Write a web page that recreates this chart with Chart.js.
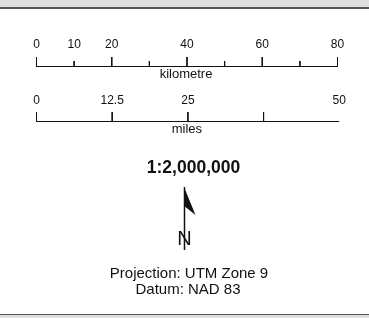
<!DOCTYPE html>
<html><head><meta charset="utf-8">
<script src="https://cdn.jsdelivr.net/npm/chart.js@4/dist/chart.umd.min.js"></script>
<style>
html,body{margin:0;padding:0;background:#fff;}
#wrap{position:relative;width:369px;height:318px;overflow:hidden;background:#fff;}
#topband{position:absolute;left:0;top:0;width:369px;height:7px;background:#dedede;border-bottom:2px solid #555;}
#botband{position:absolute;left:0;top:314px;width:369px;height:4px;background:#dedede;border-top:1px solid #555;box-sizing:border-box;}
canvas{position:absolute;left:0;top:0;}
</style>
</head><body>
<div id="wrap"><canvas id="c" width="369" height="318"></canvas><div id="topband"></div><div id="botband"></div></div>
<script>
// ---- data ----
const kmTicks = [0, 10, 20, 30, 40, 50, 60, 70, 80];
const kmMajor = [0, 20, 40, 60, 80];
const kmLabels = ['0', '10', '20', '', '40', '', '60', '', '80'];
const miTicks = [0, 12.5, 25, 37.5, 50];
const miLabels = ['0', '12.5', '25', '', '50'];
const kmUnit = 'kilometre';
const miUnit = 'miles';
const scaleText = '1:2,000,000';
const northLabel = 'N';
const projLines = ['Projection: UTM Zone 9', 'Datum: NAD 83'];
const KM_PER_MILE = 1.609344;

// ---- layout (pixels) ----
const KM_BASE = 66.5, KM_MAJ_TOP = 57, KM_MIN_TOP = 61, KM_LABEL_Y = 45, KM_UNIT_Y = 74;
const MI_BASE = 121.5, MI_TOP = 112, MI_LABEL_Y = 101, MI_UNIT_Y = 129;
const FONT = '"Liberation Sans", Arial, Helvetica, sans-serif';
const INK = '#111';

function segs(ticks, topFn, base, conv) {
  const out = [];
  ticks.forEach(t => {
    const x = conv(t);
    out.push({x: x, y: topFn(t)}, {x: x, y: base}, {x: x, y: null});
  });
  return out;
}
const ident = v => v;
const mi2km = v => v * KM_PER_MILE;

const datasets = [
  {data: [{x: 0, y: KM_BASE}, {x: kmTicks[kmTicks.length - 1], y: KM_BASE}]},
  {data: segs(kmTicks, t => kmMajor.includes(t) ? KM_MAJ_TOP : KM_MIN_TOP, KM_BASE, ident)},
  {data: [{x: 0, y: MI_BASE}, {x: mi2km(miTicks[miTicks.length - 1]), y: MI_BASE}]},
  {data: segs(miTicks, () => MI_TOP, MI_BASE, mi2km)}
].map(d => Object.assign(d, {showLine: true, borderColor: INK, borderWidth: 1, pointRadius: 0, spanGaps: false, clip: false, tension: 0}));

const textPlugin = {
  id: 'texts',
  afterDatasetsDraw(chart) {
    const ctx = chart.ctx, xs = chart.scales.x;
    ctx.save();
    ctx.fillStyle = INK;
    ctx.textAlign = 'center';
    ctx.textBaseline = 'middle';
    ctx.font = '12px ' + FONT;
    kmTicks.forEach((t, i) => { if (kmLabels[i]) ctx.fillText(kmLabels[i], xs.getPixelForValue(t), KM_LABEL_Y); });
    miTicks.forEach((t, i) => { if (miLabels[i]) ctx.fillText(miLabels[i], xs.getPixelForValue(mi2km(t)), MI_LABEL_Y); });
    const kmMid = (xs.getPixelForValue(0) + xs.getPixelForValue(80)) / 2;
    const miMid = (xs.getPixelForValue(0) + xs.getPixelForValue(mi2km(50))) / 2;
    ctx.font = '13px ' + FONT;
    ctx.fillText(kmUnit, kmMid - 1, KM_UNIT_Y);
    ctx.fillText(miUnit, miMid - 1, MI_UNIT_Y);
    const cx = 184.5;
    ctx.font = 'bold 17.5px ' + FONT;
    ctx.fillText(scaleText, 193.5, 168);
    // north arrow
    ctx.strokeStyle = INK; ctx.lineWidth = 1.5;
    ctx.beginPath(); ctx.moveTo(cx, 187); ctx.lineTo(cx, 250); ctx.stroke();
    ctx.beginPath();
    ctx.moveTo(cx - 0.5, 187); ctx.lineTo(cx + 11, 215); ctx.lineTo(cx + 1, 207); ctx.lineTo(cx - 0.5, 207); ctx.closePath();
    ctx.fill();
    ctx.font = '20px ' + FONT;
    ctx.fillText(northLabel, cx, 239);
    ctx.font = '15px ' + FONT;
    ctx.fillText(projLines[0], 189, 274);
    ctx.fillText(projLines[1], 188, 290);
    ctx.restore();
  }
};

new Chart(document.getElementById('c'), {
  type: 'scatter',
  data: {datasets: datasets},
  options: {
    responsive: false, animation: false,
    layout: {padding: {left: 36.5, right: 31.5, top: 0, bottom: 0}},
    plugins: {legend: {display: false}, tooltip: {enabled: false}},
    events: [],
    scales: {
      x: {type: 'linear', min: 0, max: 80, display: false},
      y: {type: 'linear', min: 0, max: 318, reverse: true, display: false}
    }
  },
  plugins: [textPlugin]
});
</script>
</body></html>
